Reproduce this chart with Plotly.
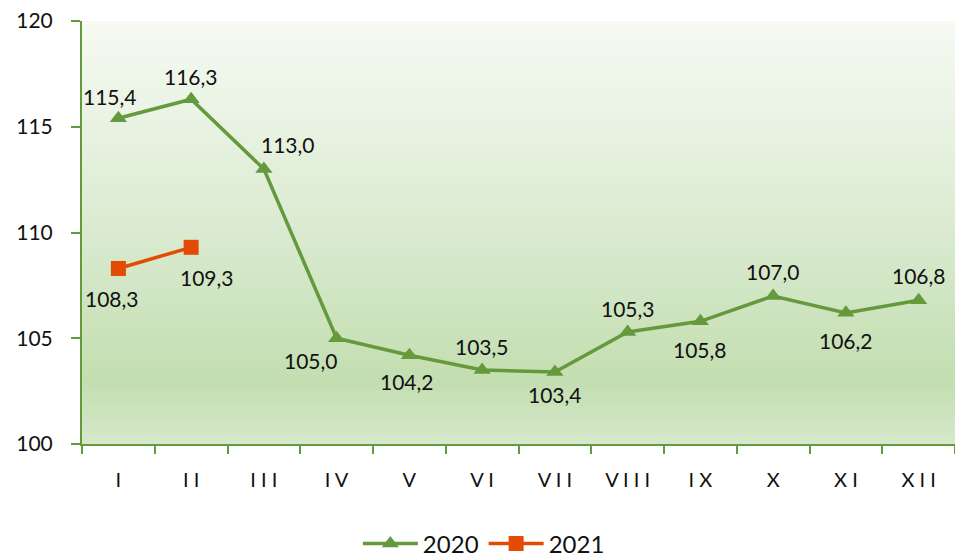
import plotly.graph_objects as go

months = ["I", "II", "III", "IV", "V", "VI", "VII", "VIII", "IX", "X", "XI", "XII"]
month_labels = ["I", "I I", "I I I", "I V", "V", "V I", "V I I", "V I I I", "I X", "X", "X I", "X I I"]
values_2020 = [115.4, 116.3, 113.0, 105.0, 104.2, 103.5, 103.4, 105.3, 105.8, 107.0, 106.2, 106.8]
values_2021 = [108.3, 109.3]
y_ticks = [100, 105, 110, 115, 120]

# label offsets (px) for data labels
off_2020 = [(-8, 22), (0, 23), (24, 25), (-26, -22), (-2, -26), (0, 23), (0, -22), (0, 23), (0, -28), (0, 24), (0, -28), (0, 25)]
off_2021 = [(-6, -30), (16, -30)]

GREEN = "#64993c"
ORANGE = "#e34b04"
FONT = "Lato"

fig = go.Figure()
fig.add_trace(go.Scatter(
    x=months, y=values_2020, name="2020", mode="lines+markers",
    line=dict(color=GREEN, width=3.5),
    marker=dict(symbol="triangle-up", size=15, color=GREEN),
))
fig.add_trace(go.Scatter(
    x=months[:len(values_2021)], y=values_2021, name="2021", mode="lines+markers",
    line=dict(color=ORANGE, width=3.5),
    marker=dict(symbol="square", size=15, color=ORANGE),
))

def fmt(v):
    return f"{v:.1f}".replace(".", ",")

for m, v, (dx, dy) in zip(months, values_2020, off_2020):
    fig.add_annotation(x=m, y=v, text=fmt(v), showarrow=False, xshift=dx, yshift=dy,
                       font=dict(family=FONT, size=21, color="#111111"))
for m, v, (dx, dy) in zip(months, values_2021, off_2021):
    fig.add_annotation(x=m, y=v, text=fmt(v), showarrow=False, xshift=dx, yshift=dy,
                       font=dict(family=FONT, size=21, color="#111111"))

# gradient background
stops = [(0.0, (246, 250, 243)), (0.45, (221, 236, 212)), (0.85, (195, 222, 176)), (1.0, (214, 232, 203))]
N = 80
def col(t):
    for (t0, c0), (t1, c1) in zip(stops[:-1], stops[1:]):
        if t0 <= t <= t1:
            f = (t - t0) / (t1 - t0) if t1 > t0 else 0
            return "rgb(%d,%d,%d)" % tuple(round(a + (b - a) * f) for a, b in zip(c0, c1))
    return "rgb(%d,%d,%d)" % stops[-1][1]
shapes = []
for i in range(N):
    t = (i + 0.5) / N
    shapes.append(dict(type="rect", xref="paper", yref="paper", x0=0, x1=1,
                       y0=1 - (i + 1) / N - 0.002, y1=1 - i / N,
                       fillcolor=col(t), line=dict(width=0), layer="below"))

fig.update_layout(
    width=955, height=558,
    margin=dict(l=82, r=0, t=21, b=114, autoexpand=False),
    paper_bgcolor="white", plot_bgcolor="white",
    shapes=shapes,
    font=dict(family=FONT, size=20, color="#111111"),
    showlegend=True,
    legend=dict(orientation="h", x=0.316, xanchor="left", y=-0.236, yanchor="middle",
                font=dict(family=FONT, size=24, color="#111111"), itemwidth=55,
                bgcolor="rgba(0,0,0,0)"),
    xaxis=dict(type="category", range=[-0.5, 11.5], tickmode="array", tickvals=months,
               ticktext=month_labels, tickson="boundaries", ticks="outside", ticklen=8,
               tickcolor=GREEN, tickwidth=2, showline=True, linecolor=GREEN, linewidth=2,
               showgrid=False, zeroline=False, tickfont=dict(family=FONT, size=20),
               ticklabelstandoff=17),
    yaxis=dict(range=[100, 120], tickvals=y_ticks, ticks="outside", ticklen=9,
               tickcolor=GREEN, tickwidth=2, showline=True, linecolor=GREEN, linewidth=2,
               showgrid=False, zeroline=False, tickfont=dict(family=FONT, size=21),
               ticklabelstandoff=14),
)

fig.write_html("out.html", config={"displayModeBar": False},
               post_script="document.body.style.margin='0';document.body.style.overflow='hidden';")
